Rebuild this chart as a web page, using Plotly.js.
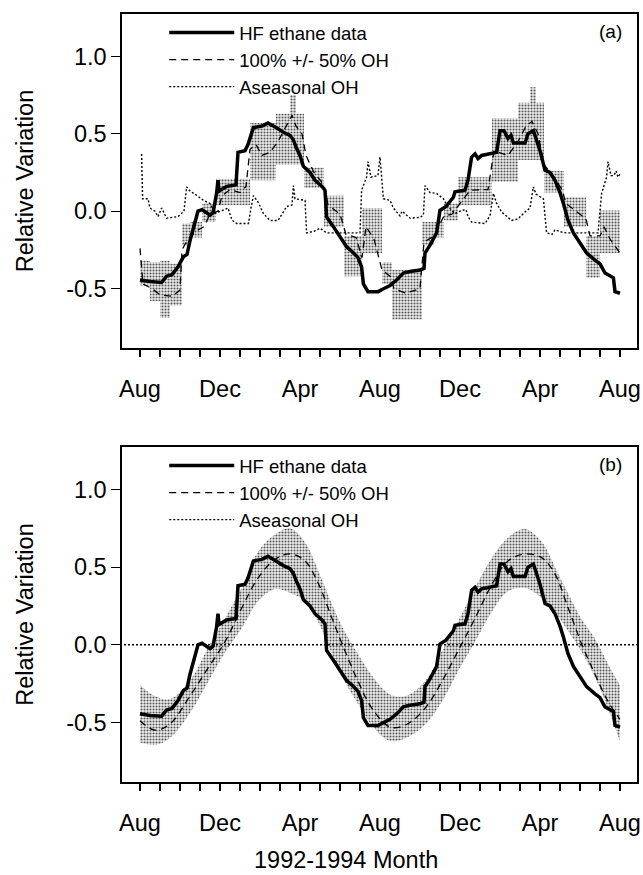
<!DOCTYPE html>
<html><head><meta charset="utf-8">
<script src="https://cdn.plot.ly/plotly-3.0.1.min.js"></script>
<style>html,body{margin:0;padding:0;background:#fff}#chart{width:643px;height:875px}</style>
</head><body><div id="chart"></div>
<script>
// x values are months since August 1992
const monthTicks = [0,1,2,3,4,5,6,7,8,9,10,11,12,13,14,15,16,17,18,19,20,21,22,23,24];
const monthLabels = ['Aug','','','','Dec','','','','Apr','','','','Aug','','','','Dec','','','','Apr','','','','Aug'];
const yTicks = [-0.5, 0, 0.5, 1.0];
const yTickLabels = ['-0.5','0.0','0.5','1.0'];

// HF ethane data (thick line, both panels)
const hfMonths = [0.0,0.5,1.08,1.33,1.6,1.9,2.17,2.35,2.5,2.75,2.9,3.1,3.5,3.65,3.83,3.9,3.95,4.33,4.8,4.9,5.25,5.4,5.67,6.1,6.4,6.8,7.17,7.5,7.67,7.8,8.0,8.17,8.5,8.75,9.1,9.25,9.33,9.67,10.0,10.33,10.6,10.9,11.08,11.17,11.4,11.9,12.2,12.5,12.83,13.17,13.5,14.0,14.2,14.25,14.5,14.83,15.0,15.3,15.67,15.75,16.25,16.4,16.58,16.75,16.9,17.08,17.83,18.0,18.2,18.4,18.55,18.67,19.25,19.4,19.67,19.8,20.0,20.25,20.5,20.75,21.0,21.17,21.4,21.67,22.0,22.33,22.75,23.0,23.25,23.67,23.75,24.0];
const hfValues = [-0.445,-0.455,-0.46,-0.42,-0.41,-0.36,-0.295,-0.28,-0.19,-0.06,0.0,0.01,-0.025,-0.01,0.115,0.2,0.13,0.16,0.17,0.38,0.39,0.43,0.54,0.55,0.57,0.54,0.51,0.49,0.46,0.415,0.36,0.29,0.25,0.2,0.16,0.135,-0.037,-0.1,-0.165,-0.23,-0.26,-0.3,-0.36,-0.47,-0.52,-0.52,-0.5,-0.48,-0.445,-0.4,-0.39,-0.38,-0.37,-0.27,-0.22,-0.14,0.005,0.03,0.09,0.125,0.135,0.2,0.35,0.37,0.34,0.36,0.38,0.52,0.52,0.47,0.49,0.44,0.44,0.5,0.52,0.47,0.39,0.265,0.25,0.2,0.12,0.05,-0.058,-0.14,-0.21,-0.27,-0.316,-0.34,-0.4,-0.43,-0.52,-0.53];

// Panel (a): aseasonal OH model (dotted)
const aseasonalAMonths = [0.08,0.13,0.4,0.5,0.75,0.9,1.08,1.33,1.9,2.2,2.33,2.5,2.75,3.17,3.5,3.75,4.4,4.6,4.83,5.42,5.55,5.67,5.9,6.17,6.5,6.9,7.1,7.33,7.6,7.67,7.75,8.25,8.33,8.7,9.0,9.33,11.0,11.08,11.33,11.4,11.55,11.9,12.0,12.08,12.17,12.5,12.67,13.0,13.1,13.5,14.0,14.17,14.25,14.5,14.83,15.17,15.4,15.75,16.08,16.3,16.4,16.58,17.25,17.5,17.67,17.83,18.08,18.58,18.9,19.25,19.5,19.67,19.8,20.17,20.33,20.6,20.75,21.08,21.3,22.9,23.08,23.33,23.4,23.55,23.7,23.8,23.9,24.0];
const aseasonalAValues = [0.37,0.08,0.08,0.02,0.0,-0.035,0.02,-0.045,-0.035,0.0,0.157,0.13,0.11,0.07,0.05,-0.015,0.02,-0.058,-0.08,-0.08,0.02,0.1,0.06,-0.015,-0.06,-0.06,-0.02,0.03,0.04,0.165,0.08,0.07,-0.14,-0.13,-0.11,-0.14,-0.14,0.135,0.22,0.32,0.22,0.23,0.35,0.22,0.08,0.07,0.02,-0.03,0.0,-0.045,-0.04,-0.025,0.165,0.12,0.115,0.08,0.03,-0.015,0.005,0.01,-0.035,-0.07,-0.08,-0.03,0.115,0.05,-0.005,-0.06,-0.05,-0.005,0.02,0.157,0.11,0.08,-0.14,-0.15,-0.12,-0.135,-0.14,-0.14,0.115,0.22,0.32,0.23,0.23,0.26,0.22,0.24];

// Panel (a): 100% OH model (dashed)
const modelAMonths = [0,0.15,0.6,1.0,1.6,2.0,2.1,2.4,2.8,3.2,3.5,3.9,4.1,4.5,5.0,5.3,5.5,5.8,6.1,6.5,6.9,7.3,7.6,7.8,8.1,8.3,8.7,9.2,9.4,10.0,10.3,10.8,11.1,11.3,11.7,12.1,12.5,12.7,13.3,14.0,14.2,14.7,15.2,15.6,16.0,16.5,17.4,17.7,18.4,18.9,19.3,19.6,19.9,20.2,20.7,21.1,21.3,21.8,22.3,22.5,23.0,23.2,23.5,24.0];
const modelAValues = [-0.24,-0.47,-0.5,-0.54,-0.55,-0.51,-0.25,-0.18,-0.13,-0.1,-0.02,0.0,0.1,0.14,0.12,0.16,0.4,0.43,0.36,0.38,0.45,0.55,0.62,0.55,0.5,0.36,0.25,0.17,0.04,-0.02,-0.15,-0.17,-0.3,-0.1,-0.18,-0.38,-0.42,-0.5,-0.53,-0.5,-0.2,-0.16,-0.03,-0.02,0.05,0.135,0.14,0.39,0.36,0.45,0.55,0.58,0.5,0.3,0.22,0.14,0.05,0.0,-0.05,-0.16,-0.16,-0.1,-0.18,-0.27];

// Panel (a): +/- 50% OH range (stepped band)
const bandAMonths = [0.0,0.5,1.0,1.5,2.1,2.5,3.1,3.8,5.5,6.8,7.5,7.8,8.2,9.2,10.2,11.1,12.1,12.6,14.1,14.7,15.2,15.9,17.6,18.9,19.5,19.8,20.2,21.2,22.3,23.0,24.0];
const bandALow  = [-0.48,-0.58,-0.69,-0.61,-0.22,-0.17,-0.07,0.04,0.2,0.3,0.3,0.3,0.15,-0.1,-0.42,-0.27,-0.47,-0.7,-0.22,-0.17,-0.06,0.04,0.19,0.33,0.33,0.33,0.12,-0.1,-0.43,-0.27,-0.27];
const bandAHigh = [-0.32,-0.33,-0.32,-0.34,-0.08,-0.07,0.05,0.21,0.57,0.63,0.75,0.63,0.28,0.1,-0.16,0.02,-0.33,-0.38,-0.07,-0.07,0.05,0.22,0.6,0.7,0.8,0.7,0.26,0.09,-0.16,0.005,0.005];

// Panel (b): smooth model, its +/- 50% range, and aseasonal OH (zero)
const modelBMonths = [0,0.75,1.5,2.5,3.4,4.25,5.1,5.9,6.75,7.5,8.25,8.9,9.6,10.25,10.9,11.6,12.5,13.3,14.25,15.1,15.9,16.75,17.6,18.4,19.25,20.1,20.75,21.4,22.1,22.75,23.4,24.0];
const modelBValues = [-0.49,-0.55,-0.51,-0.33,-0.15,0.02,0.24,0.43,0.55,0.585,0.54,0.4,0.17,-0.04,-0.235,-0.41,-0.53,-0.515,-0.41,-0.235,-0.04,0.17,0.39,0.54,0.585,0.56,0.455,0.24,0.0,-0.19,-0.365,-0.48];
const bandBHigh = [-0.26,-0.33,-0.35,-0.23,-0.02,0.17,0.37,0.6,0.71,0.75,0.66,0.48,0.26,0.08,-0.06,-0.2,-0.32,-0.33,-0.235,-0.04,0.15,0.365,0.56,0.69,0.745,0.66,0.5,0.33,0.16,0.04,-0.125,-0.26];
const bandBLow  = [-0.63,-0.645,-0.6,-0.44,-0.24,-0.05,0.11,0.28,0.36,0.335,0.28,0.15,-0.06,-0.24,-0.38,-0.52,-0.62,-0.6,-0.515,-0.365,-0.17,0.02,0.215,0.345,0.365,0.3,0.21,0.09,-0.05,-0.21,-0.41,-0.62];
const aseasonalBMonths = [-2, 26];
const aseasonalBValues = [0, 0];

const FONT = 'Liberation Sans, Arial, Helvetica, sans-serif';
const BAND = 'rgb(190,190,190)';
const BAND_PATTERN = {shape:'.', fgcolor:'#5a5a5a', bgcolor:'#efefef', size:3, solidity:0.4};
const DASH = '7px,5px';
const DOT = '2px,2px';

const traces = [
  // panel (a)
  {x: bandAMonths, y: bandALow, xaxis:'x', yaxis:'y', mode:'lines', line:{width:0, shape:'hv'}, showlegend:false, hoverinfo:'skip'},
  {x: bandAMonths, y: bandAHigh, xaxis:'x', yaxis:'y', mode:'lines', line:{width:0, shape:'hv'}, fill:'tonexty', fillcolor:BAND, fillpattern:BAND_PATTERN, showlegend:false, hoverinfo:'skip'},
  {x: aseasonalAMonths, y: aseasonalAValues, xaxis:'x', yaxis:'y', mode:'lines', name:'Aseasonal OH', line:{color:'#000', width:1.4, dash:DOT}, legend:'legend', legendrank:3},
  {x: modelAMonths, y: modelAValues, xaxis:'x', yaxis:'y', mode:'lines', name:'100% +/- 50% OH', line:{color:'#000', width:1.3, dash:DASH}, legend:'legend', legendrank:2},
  {x: hfMonths, y: hfValues, xaxis:'x', yaxis:'y', mode:'lines', name:'HF ethane data', line:{color:'#000', width:3.5}, legend:'legend', legendrank:1},
  // panel (b)
  {x: modelBMonths, y: bandBLow, xaxis:'x2', yaxis:'y2', mode:'lines', line:{width:0, shape:'spline'}, showlegend:false, hoverinfo:'skip'},
  {x: modelBMonths, y: bandBHigh, xaxis:'x2', yaxis:'y2', mode:'lines', line:{width:0, shape:'spline'}, fill:'tonexty', fillcolor:BAND, fillpattern:BAND_PATTERN, showlegend:false, hoverinfo:'skip'},
  {x: aseasonalBMonths, y: aseasonalBValues, xaxis:'x2', yaxis:'y2', mode:'lines', name:'Aseasonal OH', line:{color:'#000', width:1.4, dash:DOT}, legend:'legend2', legendrank:3},
  {x: modelBMonths, y: modelBValues, xaxis:'x2', yaxis:'y2', mode:'lines', name:'100% +/- 50% OH', line:{color:'#000', width:1.3, dash:DASH, shape:'spline'}, legend:'legend2', legendrank:2},
  {x: hfMonths, y: hfValues, xaxis:'x2', yaxis:'y2', mode:'lines', name:'HF ethane data', line:{color:'#000', width:3.5}, legend:'legend2', legendrank:1}
];

const tickFont = {family: FONT, size: 23.5, color: '#000'};
function xAxis(anchor) {
  return {anchor: anchor, domain:[0,1], range:[-0.9, 24.85], tickmode:'array', tickvals: monthTicks, ticktext: monthLabels,
    ticks:'outside', ticklen:7, tickwidth:1.2, tickcolor:'#000', showline:true, mirror:true, linecolor:'#000', linewidth:1.6,
    showgrid:false, zeroline:false, tickfont: tickFont, ticklabelstandoff: 12};
}
function yAxis(anchor, domain) {
  return {anchor: anchor, domain: domain, range:[-0.884, 1.274], tickmode:'array', tickvals: yTicks, ticktext: yTickLabels,
    ticks:'outside', ticklen:9, tickwidth:1.2, tickcolor:'#000', showline:true, mirror:true, linecolor:'#000', linewidth:1.6,
    showgrid:false, zeroline:false, tickfont: tickFont, title:{text:'Relative Variation', font: tickFont, standoff: 26}};
}
const legendBase = {xanchor:'left', yanchor:'top', bgcolor:'rgba(0,0,0,0)', borderwidth:0, itemwidth:65, traceorder:'normal',
  font:{family: FONT, size: 18.5, color:'#000'}, tracegroupgap:0, itemclick:false};

const layout = {
  width: 643, height: 875, paper_bgcolor:'#fff', plot_bgcolor:'#fff',
  margin:{l:122, r:6, t:14, b:93},
  font:{family: FONT, color:'#000'},
  xaxis: xAxis('y'), yaxis: yAxis('x', [0.5651, 1]),
  xaxis2: xAxis('y2'), yaxis2: yAxis('x2', [0, 0.4362]),
  legend: Object.assign({x:0.082, y:1.0}, legendBase),
  legend2: Object.assign({x:0.082, y:0.4362}, legendBase),
  annotations: [
    {xref:'x domain', yref:'y domain', x:1, y:1, xanchor:'right', yanchor:'top', xshift:-13, yshift:-5, text:'(a)', showarrow:false, font:{family:FONT, size:19, color:'#000'}},
    {xref:'x2 domain', yref:'y2 domain', x:1, y:1, xanchor:'right', yanchor:'top', xshift:-13, yshift:-5, text:'(b)', showarrow:false, font:{family:FONT, size:19, color:'#000'}},
    {xref:'paper', yref:'paper', x:0.435, y:-0.102, xanchor:'center', yanchor:'middle', text:'1992-1994 Month', showarrow:false, font: tickFont}
  ],
  showlegend: true
};

Plotly.newPlot('chart', traces, layout, {staticPlot:true, displayModeBar:false});
</script></body></html>
